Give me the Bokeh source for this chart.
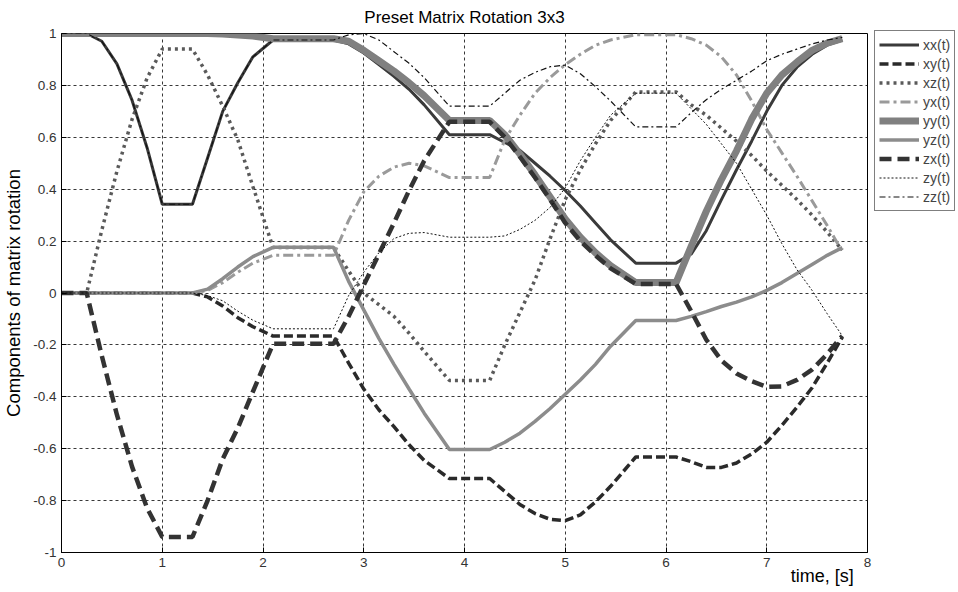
from bokeh.plotting import figure
from bokeh.models import Legend, LegendItem, LinearAxis, FixedTicker, Range1d
from bokeh.embed import file_html
from bokeh.resources import INLINE

# time samples [s]
t = [0, 0.25, 0.4, 0.55, 0.7, 0.85, 1.0,
     1.3, 1.45, 1.6, 1.75, 1.9, 2.1,
     2.7, 2.85, 3.0, 3.15, 3.3, 3.45, 3.6, 3.85,
     4.25, 4.4, 4.55, 4.7, 4.85, 5.0, 5.15, 5.3, 5.45, 5.7,
     6.1, 6.25, 6.4, 6.55, 6.7, 6.85, 7.0, 7.15, 7.3, 7.45, 7.6, 7.75]

xx = [1, 1, 0.97, 0.883, 0.743, 0.559, 0.342,
      0.342, 0.52, 0.70, 0.81, 0.91, 0.975,
      0.975, 0.96, 0.925, 0.88, 0.835, 0.785, 0.725, 0.61,
      0.61, 0.58, 0.55, 0.50, 0.45, 0.395, 0.335, 0.27, 0.205, 0.115,
      0.115, 0.15, 0.24, 0.36, 0.475, 0.585, 0.70, 0.80, 0.87, 0.92, 0.955, 0.975]
xy = [0, 0, 0, 0, 0, 0, 0,
      0, -0.015, -0.05, -0.095, -0.13, -0.166,
      -0.166, -0.27, -0.37, -0.45, -0.515, -0.585, -0.645, -0.715,
      -0.715, -0.765, -0.815, -0.85, -0.872, -0.877, -0.855, -0.805, -0.745, -0.632,
      -0.632, -0.65, -0.672, -0.672, -0.655, -0.62, -0.575, -0.51, -0.44, -0.365, -0.27, -0.17]
xz = [0, 0, 0.242, 0.469, 0.669, 0.829, 0.94,
      0.94, 0.84, 0.72, 0.59, 0.41, 0.175,
      0.175, 0.085, 0.0, -0.045, -0.09, -0.155, -0.225, -0.337,
      -0.337, -0.2, -0.075, 0.05, 0.21, 0.36, 0.475, 0.575, 0.665, 0.775,
      0.775, 0.725, 0.685, 0.635, 0.585, 0.53, 0.47, 0.415, 0.36, 0.30, 0.235, 0.165]
yx = [0, 0, 0, 0, 0, 0, 0,
      0, 0.01, 0.04, 0.08, 0.115, 0.145,
      0.145, 0.28, 0.39, 0.45, 0.485, 0.50, 0.49, 0.445,
      0.445, 0.59, 0.685, 0.77, 0.83, 0.88, 0.92, 0.955, 0.975, 0.995,
      0.995, 0.98, 0.955, 0.91, 0.84, 0.74, 0.63, 0.54, 0.45, 0.355, 0.26, 0.16]
yy = [1, 1, 1, 1, 1, 1, 1,
      1, 1.0, 0.998, 0.994, 0.99, 0.98,
      0.98, 0.97, 0.935, 0.895, 0.855, 0.81, 0.76, 0.665,
      0.665, 0.61, 0.535, 0.455, 0.37, 0.285, 0.215, 0.155, 0.105, 0.04,
      0.04, 0.18, 0.315, 0.437, 0.548, 0.67, 0.77, 0.84, 0.89, 0.935, 0.963, 0.98]
yz = [0, 0, 0, 0, 0, 0, 0,
      0, 0.015, 0.055, 0.10, 0.14, 0.176,
      0.176, 0.045, -0.065, -0.175, -0.275, -0.37, -0.463, -0.603,
      -0.603, -0.575, -0.54, -0.495, -0.445, -0.39, -0.335, -0.275, -0.205, -0.106,
      -0.106, -0.09, -0.072, -0.052, -0.035, -0.015, 0.01, 0.04, 0.075, 0.11, 0.145, 0.175]
zx = [0, 0, -0.242, -0.469, -0.669, -0.829, -0.94,
      -0.94, -0.80, -0.64, -0.52, -0.38, -0.196,
      -0.196, -0.09, 0.03, 0.15, 0.27, 0.395, 0.51, 0.66,
      0.66, 0.60, 0.525, 0.445, 0.36, 0.27, 0.20, 0.145, 0.095, 0.035,
      0.035, -0.07, -0.18, -0.26, -0.31, -0.34, -0.362, -0.36, -0.335, -0.295, -0.235, -0.165]
zy = [0, 0, 0, 0, 0, 0, 0,
      0, -0.01, -0.03, -0.07, -0.105, -0.138,
      -0.138, -0.01, 0.08, 0.155, 0.21, 0.23, 0.233, 0.215,
      0.215, 0.22, 0.245, 0.28, 0.33, 0.405, 0.51, 0.60, 0.685, 0.77,
      0.77, 0.71, 0.65, 0.575, 0.50, 0.40, 0.30, 0.19, 0.09, 0.01, -0.08, -0.165]
zz = [1, 1, 0.97, 0.883, 0.743, 0.559, 0.342,
      0.342, 0.52, 0.70, 0.81, 0.91, 0.975,
      0.975, 0.995, 1.0, 0.975, 0.93, 0.885, 0.83, 0.72,
      0.72, 0.77, 0.82, 0.85, 0.872, 0.878, 0.845, 0.795, 0.74, 0.64,
      0.64, 0.695, 0.745, 0.785, 0.82, 0.855, 0.895, 0.92, 0.94, 0.96, 0.975, 0.985]

x_ticks = [0, 1, 2, 3, 4, 5, 6, 7, 8]
y_ticks = [-1, -0.8, -0.6, -0.4, -0.2, 0, 0.2, 0.4, 0.6, 0.8, 1]
y_tick_labels = {-1: "-1", -0.8: "-0.8", -0.6: "-0.6", -0.4: "-0.4", -0.2: "-0.2", 0: "0",
                 0.2: "0.2", 0.4: "0.4", 0.6: "0.6", 0.8: "0.8", 1: "1"}
x_label = "time, [s]"
x_label_pos = [7.55]

FONT = "Liberation Sans"

p = figure(frame_width=806, frame_height=519, x_range=Range1d(0, 8), y_range=Range1d(-1, 1),
           output_backend="svg", toolbar_location=None,
           min_border_left=60, min_border_right=92, min_border_top=33, min_border_bottom=40)
p.background_fill_color = "white"
p.border_fill_color = "white"
p.outline_line_color = "black"
p.outline_line_width = 1
p.outline_line_alpha = 1

p.title.text = "Preset Matrix Rotation 3x3"
p.title.align = "center"
p.title.vertical_align = "top"
p.title.text_font = FONT
p.title.text_font_size = "17px"
p.title.text_font_style = "normal"
p.title.text_color = "black"
p.title.standoff = 10

for ax in (p.xaxis[0], p.yaxis[0]):
    ax.axis_line_color = "black"
    ax.major_tick_in = 5
    ax.major_tick_out = 0
    ax.minor_tick_line_color = None
    ax.major_tick_line_color = "black"
    ax.major_label_text_font = FONT
    ax.major_label_text_font_size = "13.5px"
    ax.major_label_text_color = "#333333"
p.xaxis[0].ticker = FixedTicker(ticks=x_ticks)
p.yaxis[0].ticker = FixedTicker(ticks=y_ticks)
p.yaxis[0].major_label_overrides = y_tick_labels
p.xaxis[0].major_label_standoff = 5
p.yaxis[0].major_label_standoff = 5
p.yaxis[0].axis_label = "Components of matrix rotation"
p.yaxis[0].axis_label_text_font = FONT
p.yaxis[0].axis_label_text_font_size = "18.5px"
p.yaxis[0].axis_label_text_font_style = "normal"
p.yaxis[0].axis_label_text_color = "black"
p.yaxis[0].axis_label_standoff = 6

# x-axis title, right side under the axis
lab_axis = LinearAxis(ticker=FixedTicker(ticks=x_label_pos),
                      major_label_overrides={x_label_pos[0]: x_label})
lab_axis.axis_line_color = None
lab_axis.major_tick_line_color = None
lab_axis.minor_tick_line_color = None
lab_axis.major_tick_in = 0
lab_axis.major_tick_out = 0
lab_axis.major_label_standoff = -4
lab_axis.major_label_text_font = FONT
lab_axis.major_label_text_font_size = "18px"
lab_axis.major_label_text_color = "black"
p.add_layout(lab_axis, "below")

for g in (p.xgrid[0], p.ygrid[0]):
    g.grid_line_color = "#222222"
    g.grid_line_dash = "3 3"
    g.grid_line_width = 1
    g.grid_line_alpha = 0.9
p.xgrid[0].ticker = FixedTicker(ticks=x_ticks)
p.ygrid[0].ticker = FixedTicker(ticks=y_ticks)

styles = [
    ("xx(t)", xx, dict(line_color="#3a3a3a", line_width=3)),
    ("xy(t)", xy, dict(line_color="#2a2a2a", line_width=3.5, line_dash="9 4")),
    ("xz(t)", xz, dict(line_color="#5a5a5a", line_width=3.5, line_dash="3 4")),
    ("yx(t)", yx, dict(line_color="#9a9a9a", line_width=3, line_dash="10 4 3 4")),
    ("yy(t)", yy, dict(line_color="#808080", line_width=7)),
    ("yz(t)", yz, dict(line_color="#8c8c8c", line_width=3.5)),
    ("zx(t)", zx, dict(line_color="#333333", line_width=4.5, line_dash="12 6")),
    ("zy(t)", zy, dict(line_color="#111111", line_width=1, line_dash="2 2")),
    ("zz(t)", zz, dict(line_color="#111111", line_width=1.2, line_dash="6 3 2 3")),
]
items = []
for name, ys, st in styles:
    r = p.line(t, ys, **st)
    items.append(LegendItem(label=name, renderers=[r]))

legend = Legend(items=items, location=(7, 341), orientation="vertical")
legend.border_line_color = "black"
legend.border_line_width = 1
legend.background_fill_color = "white"
legend.background_fill_alpha = 1
legend.label_text_font = FONT
legend.label_text_font_size = "14px"
legend.glyph_width = 40
legend.glyph_height = 19
legend.label_height = 19
legend.label_width = 20
legend.spacing = 0
legend.padding = 4
legend.margin = 0
legend.label_standoff = 4
p.add_layout(legend, "right")

open("out.html", "w").write(file_html(p, INLINE))
